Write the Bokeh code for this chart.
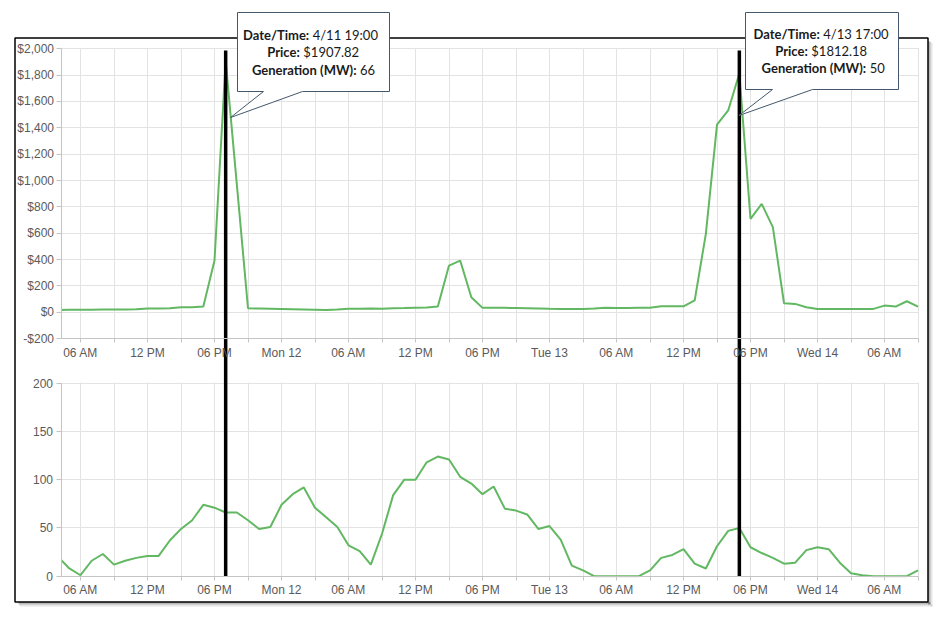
import pandas as pd
from bokeh.plotting import figure
from bokeh.models import Range1d, LinearAxis, FixedTicker, Grid, BoxAnnotation, NumeralTickFormatter
from bokeh.core.properties import value
from bokeh.embed import file_html
from bokeh.resources import INLINE

# ---------------- data ----------------
start_time = "2021-04-11 04:00"          # hourly series
price = [16, 18, 19, 19, 20, 20, 21, 22, 28, 29,
         30, 37, 38, 43, 392, 1907.82, 970, 30, 28, 26,
         24, 22, 20, 18, 16, 20, 27, 27, 28, 26,
         30, 31, 33, 35, 43, 354, 392, 114, 33, 33,
         33, 32, 30, 28, 26, 25, 25, 25, 28, 33,
         32, 32, 33, 33, 45, 45, 45, 89, 595, 1425,
         1532, 1812.18, 709, 823, 646, 68, 63, 38, 25, 25,
         24, 24, 24, 25, 50, 43, 83, 43]
generation = [20, 8, 1, 16, 23, 12, 16, 19, 21, 21,
              37, 49, 58, 74, 71, 66, 66, 58, 49, 51,
              74, 85, 92, 71, 61, 51, 32, 26, 12, 44,
              84, 100, 100, 118, 124, 121, 103, 96, 85, 93,
              70, 68, 64, 49, 52, 38, 11, 6, 0, 0,
              0, 0, 0, 6, 19, 22, 28, 13, 8, 31,
              47, 50, 30, 24, 19, 13, 14, 27, 30, 28,
              14, 3, 1, 0, 0, 0, 0, 6]
highlight_times = ["2021-04-11 19:00", "2021-04-13 17:00"]
x_tick_times = pd.date_range("2021-04-11 06:00", "2021-04-14 06:00", freq="6h")
x_tick_labels = ["06 AM", "12 PM", "06 PM", "Mon 12",
                 "06 AM", "12 PM", "06 PM", "Tue 13",
                 "06 AM", "12 PM", "06 PM", "Wed 14", "06 AM"]
x_minor_times = pd.date_range("2021-04-11 09:00", "2021-04-14 09:00", freq="6h")
price_ticks = [-200, 0, 200, 400, 600, 800, 1000, 1200, 1400, 1600, 1800, 2000]
gen_ticks = [0, 50, 100, 150, 200]
callout_fields = ["Date/Time:", "Price:", "Generation (MW):"]

# ---------------- layout helpers (pixel -> data) ----------------
W, H = 946, 618
def ms(t):
    return int(pd.Timestamp(t).value // 10**6)
T_REF = ms("2021-04-11 06:00")
def xd(px):
    return T_REF + (px - 80.0) / 11.167 * 3600000.0
def yp(py):   # price units
    return (311.7 - py) / 0.1317
def yg(py):   # generation units
    return (575.7 - py) / 0.965

times = pd.date_range(start_time, periods=len(price), freq="h")
t_ms = [ms(t) for t in times]

GREEN = "#62b862"
GRID = "#e3e3e3"
AXIS = "#c4c4c4"
LABEL = "#5a5a5a"

p = figure(width=W, height=H, x_range=Range1d(xd(0), xd(W)), y_range=Range1d(yp(H), yp(0)),
           x_axis_type=None, y_axis_type=None, toolbar_location=None,
           output_backend="svg", min_border=0, outline_line_color=None)
p.extra_y_ranges = {"gen": Range1d(yg(H), yg(0))}
p.background_fill_color = "white"
p.border_fill_color = "white"

xt = FixedTicker(ticks=[ms(t) for t in x_tick_times], minor_ticks=[ms(t) for t in x_minor_times])
p.add_layout(Grid(dimension=0, ticker=xt, grid_line_color=GRID, minor_grid_line_color=GRID))
p.add_layout(Grid(dimension=1, ticker=FixedTicker(ticks=price_ticks), grid_line_color=GRID))
p.add_layout(Grid(dimension=1, ticker=FixedTicker(ticks=gen_ticks), y_range_name="gen", grid_line_color=GRID))

# white masks that confine the grids to the two panels
for kw in [dict(right=xd(60.5)), dict(left=xd(918.5)), dict(bottom=yp(47.6)),
           dict(top=yp(338.8), bottom=yp(382.0)), dict(top=yp(577.0))]:
    p.add_layout(BoxAnnotation(fill_color="white", fill_alpha=1, line_color=None, level="annotation", **kw))

p.line(t_ms, price, line_color=GREEN, line_width=2)
p.line(t_ms, generation, line_color=GREEN, line_width=2, y_range_name="gen")

axis_style = dict(axis_line_color=AXIS, major_tick_line_color=AXIS, minor_tick_line_color=AXIS,
                  major_tick_in=0, minor_tick_in=0,
                  major_label_text_font="Liberation Sans", major_label_text_font_size="12px",
                  major_label_text_color=LABEL, level="overlay")
pa = LinearAxis(ticker=FixedTicker(ticks=price_ticks), formatter=NumeralTickFormatter(format="$0,0"),
                bounds=(-200, 2000), fixed_location=xd(60.5), major_tick_out=5, major_label_standoff=2,
                minor_tick_out=0, **axis_style)
pa.minor_tick_line_color = None
p.add_layout(pa, "left")
ga = LinearAxis(y_range_name="gen", ticker=FixedTicker(ticks=gen_ticks), bounds=(0, 200),
                fixed_location=xd(60.5), major_tick_out=5, major_label_standoff=3, minor_tick_out=0, **axis_style)
ga.minor_tick_line_color = None
p.add_layout(ga, "left")
overrides = {ms(t): lab for t, lab in zip(x_tick_times, x_tick_labels)}
for rname, loc in [("default", -200), ("gen", 0)]:
    xa = LinearAxis(ticker=xt, y_range_name=rname, fixed_location=loc, bounds=(xd(60.5), xd(918)),
                    major_tick_out=4, minor_tick_out=4, major_label_standoff=3, **axis_style)
    xa.major_label_overrides = overrides
    p.add_layout(xa, "below")

# outer frame with soft shadow
p.quad(left=[xd(927.5), xd(18)], right=[xd(930), xd(930)], top=[yp(41), yp(601.5)], bottom=[yp(604), yp(604)],
       fill_color="black", fill_alpha=0.28, line_color=None, level="overlay")
p.quad(left=[xd(930), xd(19)], right=[xd(932), xd(932)], top=[yp(42), yp(604)], bottom=[yp(606), yp(606)],
       fill_color="black", fill_alpha=0.1, line_color=None, level="overlay")
p.quad(left=xd(14.5), right=xd(927.5), top=yp(37.5), bottom=yp(601.5), fill_color=None,
       line_color="black", line_width=1.5, level="overlay")

# highlighted hours: vertical markers
hl_ms = [ms(t) for t in highlight_times]
p.segment(x0=hl_ms, x1=hl_ms, y0=[0] * len(hl_ms), y1=[yg(50)] * len(hl_ms), y_range_name="gen",
          line_color="black", line_width=3.5, level="overlay")

# callouts (pixel geometry)
callouts = [
    dict(box=(237, 389, 12, 91), base=(263, 302), tip=(230, 117),
         split=[309.7, 300.3, 357.0], rows=[34.3, 51.7, 69.0]),
    dict(box=(745, 898, 12, 89), base=(772, 812), tip=(738.5, 115),
         split=[820.3, 808.3, 866.7], rows=[33.3, 50.7, 67.7]),
]
xs, ys = [], []
bx, by, bt, vx, vy, vt = [], [], [], [], [], []
for c, ht in zip(callouts, highlight_times):
    l, r, t, b = c["box"]
    b0, b1 = c["base"]
    tx, ty = c["tip"]
    pts = [(l, t), (r, t), (r, b), (b1, b), (tx, ty), (b0, b), (l, b)]
    xs.append([xd(px) for px, _ in pts])
    ys.append([yp(py) for _, py in pts])
    ts = pd.Timestamp(ht)
    i = list(times).index(ts)
    vals = [f"{ts.month}/{ts.day} {ts:%H:%M}", f"${price[i]:.2f}", f"{generation[i]:g}"]
    for f, v, sx, ry in zip(callout_fields, vals, c["split"], c["rows"]):
        bx.append(xd(sx - 1.0)); by.append(yp(ry)); bt.append(f)
        vx.append(xd(sx + 2.5)); vy.append(yp(ry)); vt.append(v)
p.patches(xs, ys, fill_color="white", line_color="#44586c", line_width=1, level="overlay")
txt = dict(text_font=value("Lato"), text_font_size="13px", text_color="#1a1a1a",
           text_baseline="middle", level="overlay")
p.text(bx, by, text=bt, text_font_style="bold", text_align="right", **txt)
p.text(vx, vy, text=vt, text_font_style="normal", text_align="left", **txt)

open("out.html", "w").write(file_html(p, INLINE))
